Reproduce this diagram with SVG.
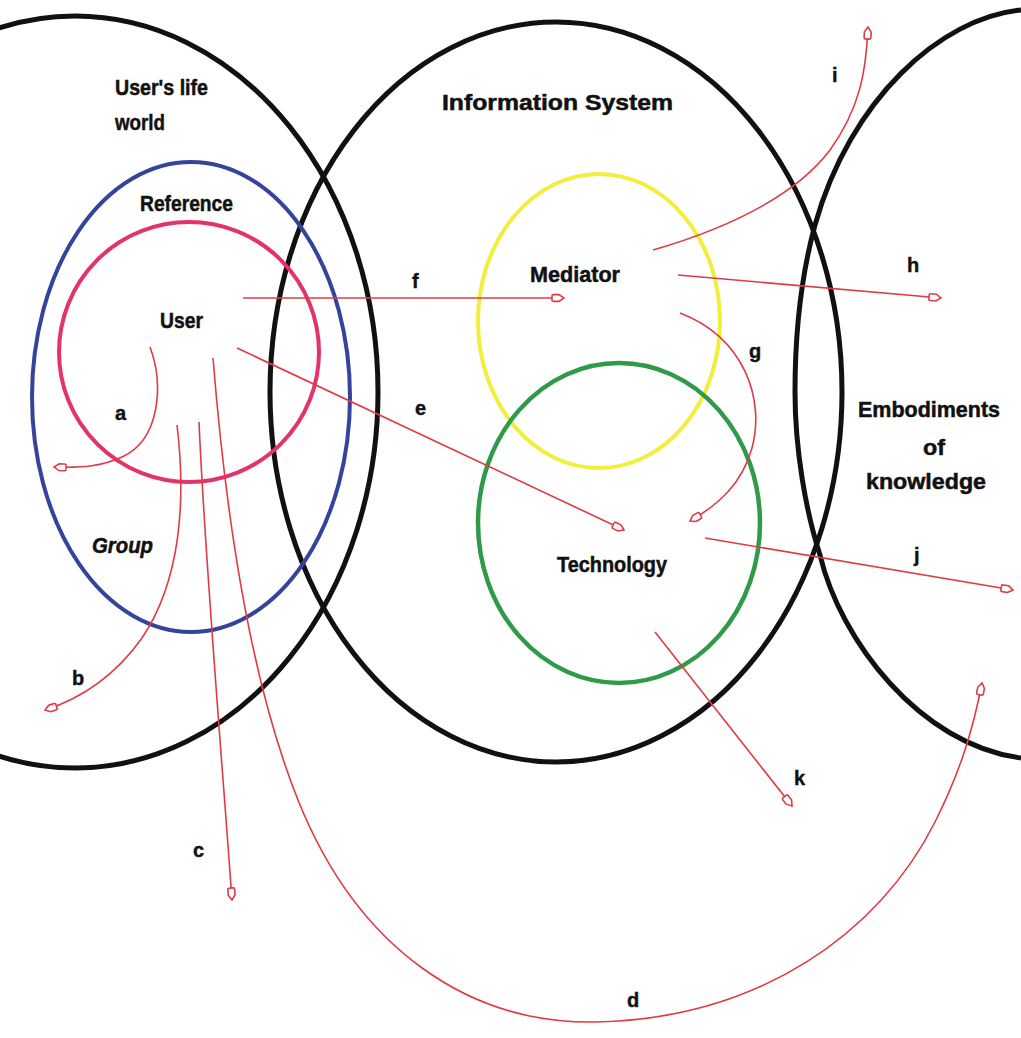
<svg xmlns="http://www.w3.org/2000/svg" width="1021" height="1038" viewBox="0 0 1021 1038">
  <defs>
    <style>
      .ring { fill: none; }
      .outer { stroke: #111; stroke-width: 5; }
      .lbl { font-family: "Liberation Sans", "DejaVu Sans", sans-serif; font-weight: bold; font-size: 22px; fill: #111; stroke: #111; stroke-width: 0.5; }
      .let { font-family: "Liberation Sans", "DejaVu Sans", sans-serif; font-weight: bold; font-size: 20px; fill: #111; stroke: #111; stroke-width: 0.4; }
      .link { fill: none; stroke: #e03b45; stroke-width: 1.6; marker-end: url(#tip); }
    </style>
    <marker id="tip" viewBox="0 0 14 10" refX="13" refY="5" markerWidth="14" markerHeight="10" markerUnits="userSpaceOnUse" orient="auto">
      <path d="M1,2.6 Q1,1.6 2.6,1.6 L8,1.6 L13,5 L8,8.4 L2.6,8.4 Q1,8.4 1,7.4 Z" fill="#fff" stroke="#e03b45" stroke-width="1.6"/>
    </marker>
  </defs>

  <rect width="1021" height="1038" fill="#fff"/>

  <!-- outer domains -->
  <g id="life-world">
    <ellipse class="ring outer" cx="75" cy="392" rx="303" ry="376"/>
    <text class="lbl" x="115" y="95" textLength="93" lengthAdjust="spacingAndGlyphs">User's life</text>
    <text class="lbl" x="115" y="130" textLength="50" lengthAdjust="spacingAndGlyphs">world</text>
  </g>

  <g id="information-system">
    <ellipse class="ring outer" cx="556" cy="392" rx="286" ry="370"/>
    <text class="lbl" x="442" y="110" textLength="231" lengthAdjust="spacingAndGlyphs">Information System</text>
  </g>

  <g id="embodiments">
    <path class="ring outer" d="M1021,10 C940,18 850,100 815,225 C800,280 795,340 795,392 C795,450 806,512 820,555 C840,640 920,745 1021,758"/>
    <text class="lbl" x="858" y="417" textLength="142" lengthAdjust="spacingAndGlyphs">Embodiments</text>
    <text class="lbl" x="923" y="455" textLength="22" lengthAdjust="spacingAndGlyphs">of</text>
    <text class="lbl" x="866" y="489" textLength="120" lengthAdjust="spacingAndGlyphs">knowledge</text>
  </g>

  <!-- inner circles -->
  <g id="group-reference">
    <ellipse class="ring" cx="191" cy="397" rx="159" ry="235" stroke="#34449a" stroke-width="4"/>
    <text class="lbl" x="140" y="211" textLength="93" lengthAdjust="spacingAndGlyphs">Reference</text>
    <text class="lbl" x="92" y="553" textLength="61" lengthAdjust="spacingAndGlyphs" font-style="italic">Group</text>
  </g>

  <g id="user">
    <ellipse class="ring" cx="189" cy="352" rx="130" ry="130" stroke="#e3336b" stroke-width="4"/>
    <text class="lbl" x="160" y="328" textLength="43" lengthAdjust="spacingAndGlyphs">User</text>
  </g>

  <g id="mediator">
    <ellipse class="ring" cx="599" cy="321" rx="121" ry="147" stroke="#f1ee3c" stroke-width="4"/>
    <text class="lbl" x="530" y="282" textLength="90" lengthAdjust="spacingAndGlyphs">Mediator</text>
  </g>

  <g id="technology">
    <ellipse class="ring" cx="619" cy="523" rx="141" ry="160" stroke="#2f9a48" stroke-width="4.5"/>
    <text class="lbl" x="557" y="572" textLength="110" lengthAdjust="spacingAndGlyphs">Technology</text>
  </g>

  <!-- relations -->
  <g id="connectors">
    <path class="link" d="M150,347 C164,385 160,440 122,457 C102,466 84,468 54,467"/>
    <path class="link" d="M177,425 C186,500 181,580 142,638 C117,673 86,697 45,710"/>
    <path class="link" d="M199,422 C205,560 222,760 232,900"/>
    <path class="link" d="M213,358 C226,520 250,680 298,800 C358,950 470,1024 595,1022 C760,1019 880,932 935,822 C958,776 972,735 982,683"/>
    <path class="link" d="M237,348 L624,530"/>
    <path class="link" d="M243,298 L564,298"/>
    <path class="link" d="M680,313 C745,338 765,400 752,448 C742,484 718,505 690,521"/>
    <path class="link" d="M678,275 L941,298"/>
    <path class="link" d="M653,250 C740,225 800,190 830,150 C860,108 866,72 868,27"/>
    <path class="link" d="M705,538 L1013,590"/>
    <path class="link" d="M655,632 L792,806"/>
  </g>

  <!-- relation letters -->
  <g id="letters">
    <text class="let" x="115" y="420">a</text>
    <text class="let" x="72" y="685">b</text>
    <text class="let" x="193" y="857">c</text>
    <text class="let" x="627" y="1007">d</text>
    <text class="let" x="415" y="415">e</text>
    <text class="let" x="412" y="288">f</text>
    <text class="let" x="749" y="358">g</text>
    <text class="let" x="907" y="272">h</text>
    <text class="let" x="832" y="82">i</text>
    <text class="let" x="914" y="562">j</text>
    <text class="let" x="794" y="785">k</text>
  </g>
</svg>
